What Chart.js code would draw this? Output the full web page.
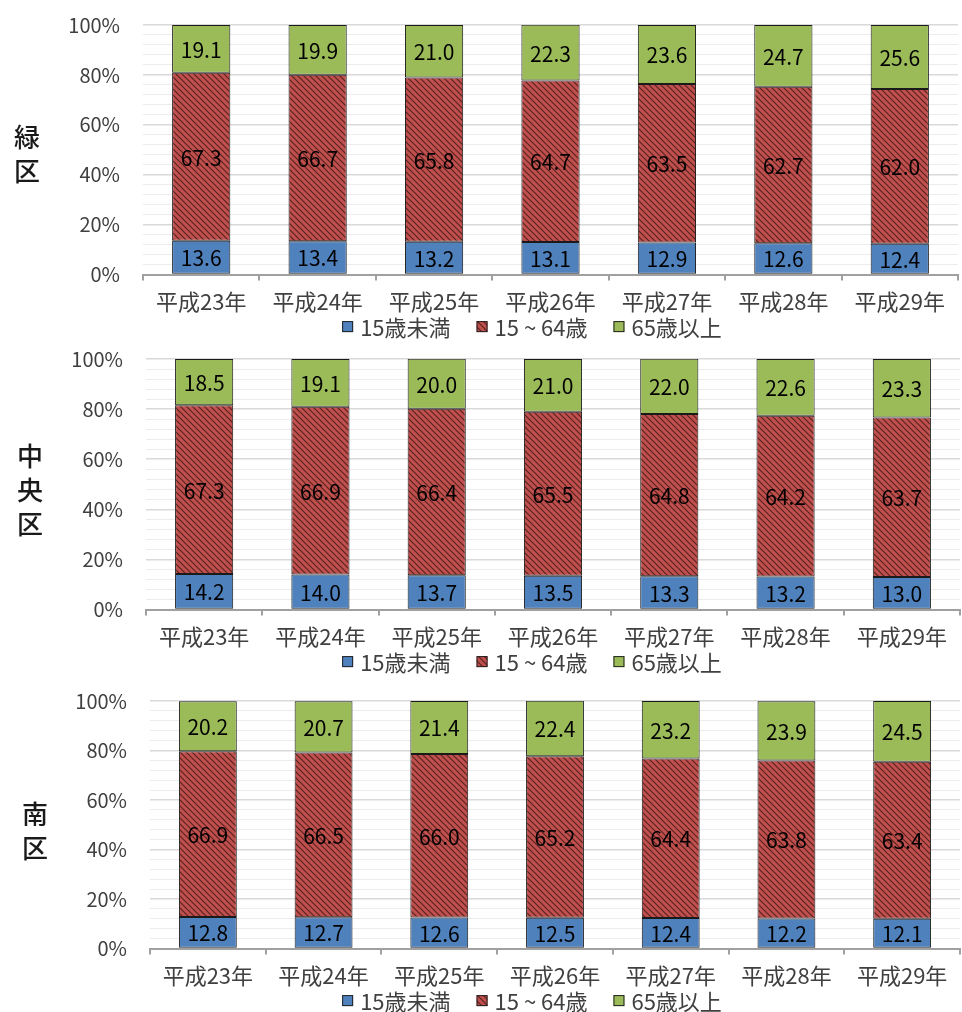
<!DOCTYPE html>
<html lang="ja">
<head>
<meta charset="utf-8">
<script src="https://cdn.jsdelivr.net/npm/chart.js@4.4.1/dist/chart.umd.min.js"></script>
<style>
  html, body { margin: 0; padding: 0; background: #fff; }
  body { width: 962px; height: 1012px; position: relative; overflow: hidden; }
  .panel { position: absolute; left: 0; width: 962px; }
  .ward {
    position: absolute; font-family: "Noto Sans CJK JP", sans-serif;
    font-size: 26px; line-height: 34px; color: #1a1a1a; font-weight: 500;
    width: 30px; text-align: center;
  }
</style>
</head>
<body>
<div class="panel" style="top:0;height:340px"><canvas id="midoriChart"></canvas></div>
<div class="panel" style="top:340px;height:340px"><canvas id="chuoChart"></canvas></div>
<div class="panel" style="top:680px;height:332px"><canvas id="minamiChart"></canvas></div>
<div class="ward" style="left:12px;top:119px">緑<br>区</div>
<div class="ward" style="left:15px;top:438px">中<br>央<br>区</div>
<div class="ward" style="left:20px;top:796px">南<br>区</div>
<script>
const years = ["平成23年", "平成24年", "平成25年", "平成26年", "平成27年", "平成28年", "平成29年"];
const seriesNames = ["15歳未満", "15 ~ 64歳", "65歳以上"];

// 緑区
const midoriUnder15 = [13.6, 13.4, 13.2, 13.1, 12.9, 12.6, 12.4];
const midoriWorking = [67.3, 66.7, 65.8, 64.7, 63.5, 62.7, 62.0];
const midoriElderly = [19.1, 19.9, 21.0, 22.3, 23.6, 24.7, 25.6];

// 中央区
const chuoUnder15 = [14.2, 14.0, 13.7, 13.5, 13.3, 13.2, 13.0];
const chuoWorking = [67.3, 66.9, 66.4, 65.5, 64.8, 64.2, 63.7];
const chuoElderly = [18.5, 19.1, 20.0, 21.0, 22.0, 22.6, 23.3];

// 南区
const minamiUnder15 = [12.8, 12.7, 12.6, 12.5, 12.4, 12.2, 12.1];
const minamiWorking = [66.9, 66.5, 66.0, 65.2, 64.4, 63.8, 63.4];
const minamiElderly = [20.2, 20.7, 21.4, 22.4, 23.2, 23.9, 24.5];

const FONT = '"Noto Sans CJK JP", sans-serif';
const BLUE = "#4F81BD";
const GREEN = "#9BBB59";

function makeHatch() {
    const s = 6;
    const c = document.createElement("canvas");
    c.width = s; c.height = s;
    const g = c.getContext("2d");
    g.fillStyle = "#C0504D";
    g.fillRect(0, 0, s, s);
    g.strokeStyle = "#5a2321";
    g.lineWidth = 1.2;
    g.beginPath();
    g.moveTo(-1, -1); g.lineTo(s + 1, s + 1);
    g.moveTo(-1, s - 1); g.lineTo(1, s + 1);
    g.moveTo(s - 1, -1); g.lineTo(s + 1, 1);
    g.stroke();
    return g.createPattern(c, "repeat");
}
const HATCH = makeHatch();

// numbers in the middle of each segment
const valueLabels = {
    id: "valueLabels",
    afterDatasetsDraw(chart) {
        const ctx = chart.ctx;
        ctx.save();
        ctx.font = "21px " + FONT;
        ctx.fillStyle = "#000";
        ctx.textAlign = "center";
        ctx.textBaseline = "middle";
        chart.data.datasets.forEach((ds, i) => {
            chart.getDatasetMeta(i).data.forEach((bar, j) => {
                ctx.fillText(ds.data[j].toFixed(1), bar.x, (bar.y + bar.base) / 2 + 1);
            });
        });
        ctx.restore();
    }
};

// legend under the category labels
const bottomLegend = {
    id: "bottomLegend",
    afterDraw(chart) {
        const ctx = chart.ctx;
        const y = chart.chartArea.bottom + 52;
        ctx.save();
        ctx.font = "22px " + FONT;
        const box = 11, gapIn = 7, gapOut = 26;
        const items = chart.data.datasets.map(ds => ({
            text: ds.label, fill: ds.backgroundColor, w: ctx.measureText(ds.label).width
        }));
        const total = items.reduce((s, it) => s + box + gapIn + it.w, 0) + gapOut * (items.length - 1);
        let x = chart.width / 2 + 51 - total / 2;
        ctx.textBaseline = "middle";
        items.forEach(it => {
            ctx.fillStyle = it.fill;
            ctx.fillRect(x, y - box / 2, box, box);
            ctx.strokeStyle = "#222";
            ctx.lineWidth = 1;
            ctx.strokeRect(x + 0.5, y - box / 2 + 0.5, box - 1, box - 1);
            ctx.fillStyle = "#404040";
            ctx.fillText(it.text, x + box + gapIn, y + 1);
            x += box + gapIn + it.w + gapOut;
        });
        ctx.restore();
    }
};

function buildChart(id, under15, working, elderly, pad, axisWidth) {
    const canvas = document.getElementById(id);
    if (!canvas) {
        console.warn("canvas not found: " + id);
        return;
    }
    new Chart(canvas, {
        type: "bar",
        data: {
            labels: years,
            datasets: [
                { label: seriesNames[0], data: under15, backgroundColor: BLUE },
                { label: seriesNames[1], data: working, backgroundColor: HATCH },
                { label: seriesNames[2], data: elderly, backgroundColor: GREEN }
            ]
        },
        options: {
            responsive: true,
            maintainAspectRatio: false,
            animation: false,
            layout: { padding: pad },
            datasets: {
                bar: {
                    borderColor: "#1a1a1a",
                    borderWidth: 1,
                    borderSkipped: false,
                    barPercentage: 1,
                    categoryPercentage: 0.5
                }
            },
            plugins: {
                legend: { display: false },
                tooltip: { enabled: false }
            },
            scales: {
                x: {
                    stacked: true,
                    grid: { offset: true, drawOnChartArea: false, drawTicks: true, tickLength: 6, color: "#a0a0a0", lineWidth: 2 },
                    border: { color: "#a0a0a0", width: 2 },
                    ticks: { color: "#404040", font: { family: FONT, size: 22 }, padding: 8, maxRotation: 0 }
                },
                y: {
                    stacked: true,
                    min: 0,
                    max: 100,
                    afterFit(scale) {
                        scale.width = axisWidth;
                        scale.paddingTop = 0;
                        scale.paddingBottom = 0;
                    },
                    border: { display: false },
                    grid: {
                        drawTicks: false,
                        color: c => (c.tick && c.tick.value % 20 === 0) ? "#d9d9d9" : "#ececec",
                        lineWidth: c => (c.tick && c.tick.value % 20 === 0) ? 1.5 : 1
                    },
                    ticks: {
                        stepSize: 4,
                        autoSkip: false,
                        padding: 23,
                        color: "#404040",
                        font: { family: FONT, size: 20 },
                        callback: v => v % 20 === 0 ? v + "%" : ""
                    }
                }
            }
        },
        plugins: [valueLabels, bottomLegend]
    });
}

buildChart("midoriChart", midoriUnder15, midoriWorking, midoriElderly, { top: 25, bottom: 17, right: 4, left: 0 }, 143);
buildChart("chuoChart", chuoUnder15, chuoWorking, chuoElderly, { top: 19, bottom: 22, right: 2, left: 0 }, 146);
buildChart("minamiChart", minamiUnder15, minamiWorking, minamiElderly, { top: 21, bottom: 15, right: 2, left: 0 }, 150);
</script>
</body>
</html>
